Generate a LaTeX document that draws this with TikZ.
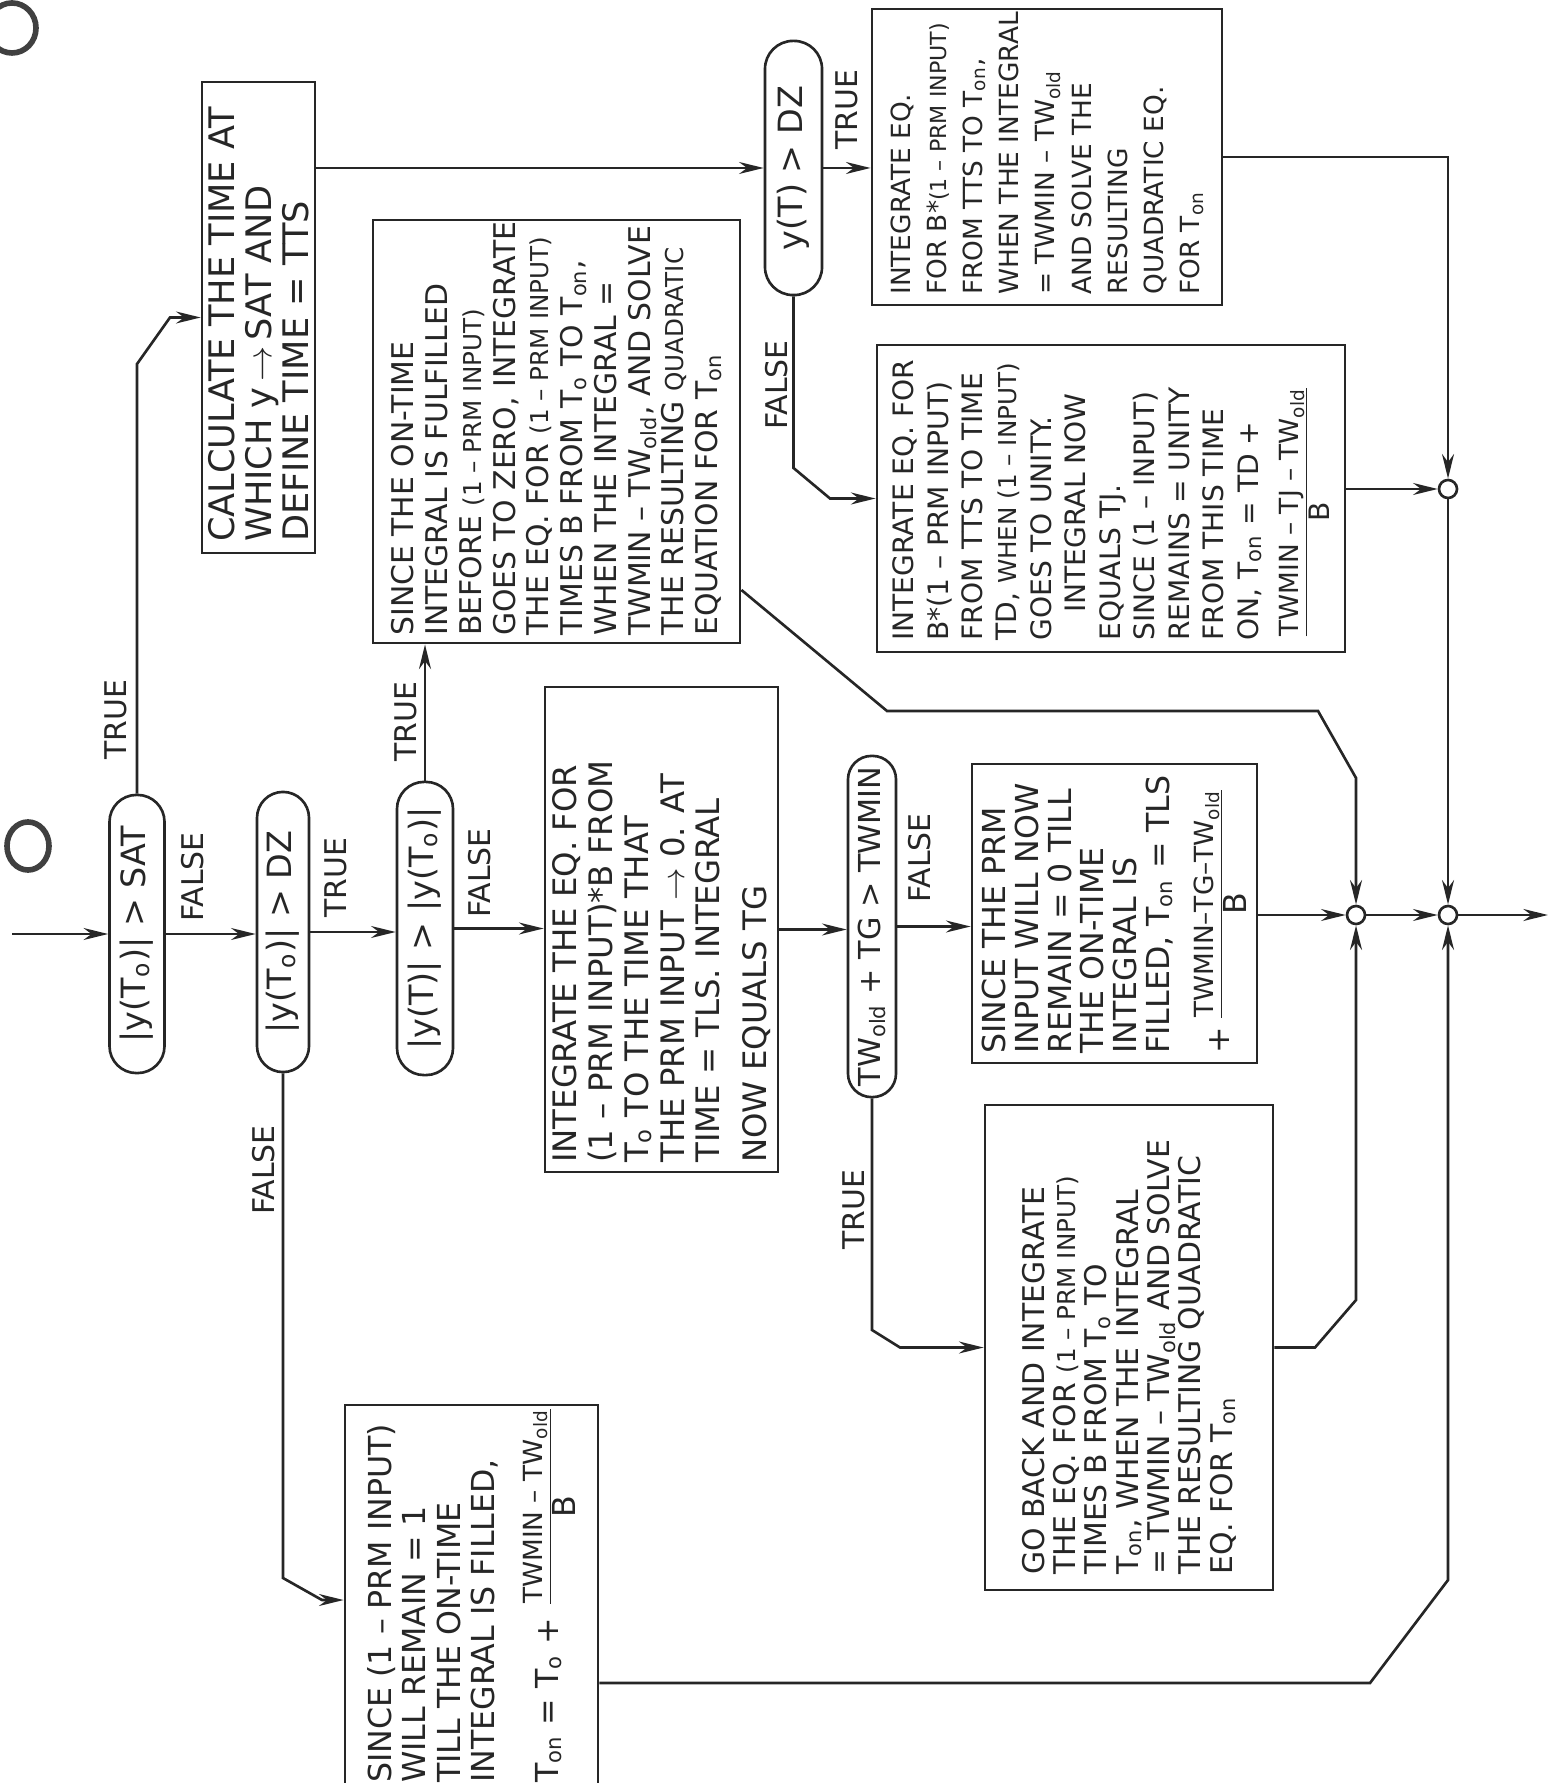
\documentclass[tikz,border=0pt]{standalone}
\usepackage{fontspec}
\setmainfont{DejaVu Sans}
\usetikzlibrary{arrows.meta,calc}
\newcommand\sbs[1]{\textsubscript{#1}}
\newcommand\fsz[2]{\fontsize{#1}{#2}\selectfont}
\newcommand\smtx[1]{{\fontsize{7}{7}\selectfont #1}}
\newcommand\smtxx[1]{{\fontsize{6.3}{6.3}\selectfont #1}}
\newcommand\myfrac[2]{$\frac{\mbox{\fsz{7.5}{8}#1}}{\mbox{#2}}$}
\begin{document}
\begin{tikzpicture}[x=0.01cm,y=-0.01cm,
  ln/.style={line width=0.75pt, draw=black!85},
  box/.style={ln, rectangle, inner sep=0pt},
  pill/.style={ln, rectangle, rounded corners=#1, inner sep=0pt},
  jn/.style={ln, circle, minimum size=0.18cm, inner sep=0pt, fill=white},
  tx/.style={rotate=90, anchor=west, align=left, inner sep=0pt, text=black!85},
  dtx/.style={rotate=90, inner sep=0pt, text=black!85, font=\fsz{9.5}{10}},
  lab/.style={rotate=90, inner sep=0pt, text=black!85, font=\fsz{8.5}{9}},
  arr/.style={ln, -{Stealth[length=7pt,width=3.4pt]}},
  oarr/.style={ln, -{Stealth[length=7pt,width=3.4pt,open]}},
  hole/.style={line width=1.6pt, draw=black!75}
]
\useasboundingbox (0,0) rectangle (1551,1783);
\clip (0,0) rectangle (1551,1783);

% punch holes
\draw[hole] (12,28) ellipse [x radius=0.24cm, y radius=0.25cm];
\draw[hole] (28,846) ellipse [x radius=0.21cm, y radius=0.24cm];

% decisions
\node[pill=0.27cm, minimum width=0.55cm, minimum height=2.78cm] (D1) at (137,934) {};
\node[pill=0.26cm, minimum width=0.52cm, minimum height=2.80cm] (D2) at (283,932) {};
\node[pill=0.27cm, minimum width=0.56cm, minimum height=2.93cm] (D3) at (425,928.5) {};
\node[pill=0.28cm, minimum width=0.57cm, minimum height=2.54cm] (D4) at (793.5,168) {};
\node[pill=0.235cm, minimum width=0.48cm, minimum height=3.41cm] (D5) at (872,926.5) {};
\node[dtx] at (D1) {|y(T\sbs{o})| > SAT};
\node[dtx] at (D2) {|y(T\sbs{o})| > DZ};
\node[dtx] at (D3) {|y(T)| > |y(T\sbs{o})|};
\node[dtx] at (D4) {y(T) > DZ};
\node[dtx, font=\fsz{8.6}{9}] at (D5) {TW\sbs{old} + TG > TWMIN};

% boxes
\node[box, minimum width=1.13cm, minimum height=4.71cm] (B1) at (258.5,317.5) {};
\node[box, minimum width=2.33cm, minimum height=4.85cm] (B2) at (661.5,929.5) {};
\node[box, minimum width=3.67cm, minimum height=4.23cm] (B3) at (556.5,431.5) {};
\node[box, minimum width=4.68cm, minimum height=3.07cm] (B4) at (1111,498.5) {};
\node[box, minimum width=3.50cm, minimum height=2.96cm] (B5) at (1047,157) {};
\node[box, minimum width=2.85cm, minimum height=2.99cm] (B6) at (1114.5,913.5) {};
\node[box, minimum width=2.88cm, minimum height=4.85cm] (B7) at (1129,1347.5) {};
\node[box, minimum width=2.53cm, minimum height=3.95cm] (B8) at (471.5,1602.5) {};

% box texts
\node[tx, font=\fsz{10}{10.5}] at ($(B1.south)+(0,-12)$)
 {CALCULATE THE TIME AT\\WHICH y\,$\rightarrow$\,SAT AND\\DEFINE TIME = TTS};
\node[tx, font=\fsz{9.2}{10.2}] at ($(B2.south)+(0,-10)$)
 {INTEGRATE THE EQ. FOR\\(1 -- PRM INPUT)*B FROM\\T\sbs{o} TO THE TIME THAT\\THE PRM INPUT $\rightarrow$ 0. AT\\TIME = TLS. INTEGRAL\\[3pt]NOW EQUALS TG};
\node[tx, font=\fsz{8.5}{9.6}] at ($(B3.south)+(0,-8)$)
 {SINCE THE ON-TIME\\INTEGRAL IS FULFILLED\\BEFORE \smtx{(1 -- PRM INPUT)}\\GOES TO ZERO, INTEGRATE\\THE EQ. FOR \smtx{(1 -- PRM INPUT)}\\TIMES B FROM T\sbs{o} TO T\sbs{on},\\WHEN THE INTEGRAL =\\TWMIN -- TW\sbs{old}, AND SOLVE\\THE RESULTING \smtx{QUADRATIC}\\EQUATION FOR T\sbs{on}};
\node[tx, font=\fsz{8}{9.8}] at ($(B4.south)+(0,-12)$)
 {INTEGRATE EQ. FOR\\B*(1 -- PRM INPUT)\\FROM TTS TO TIME\\TD, \smtx{WHEN (1 -- INPUT)}\\GOES TO UNITY.\\\hspace{1em}INTEGRAL NOW\\EQUALS TJ.\\SINCE (1 -- INPUT)\\REMAINS = UNITY\\FROM THIS TIME\\ON, T\sbs{on} = TD +\\[4pt]\myfrac{TWMIN -- TJ -- TW\sbs{old}}{B}};
\node[tx, font=\fsz{7.5}{10.3}] at ($(B5.south)+(0,-11)$)
 {INTEGRATE EQ.\\FOR B*\smtxx{(1 -- PRM INPUT)}\\FROM TTS TO T\sbs{on},\\WHEN THE INTEGRAL\\= TWMIN -- TW\sbs{old}\\AND SOLVE THE\\RESULTING\\QUADRATIC EQ.\\FOR T\sbs{on}};
\node[tx, font=\fsz{9}{9.3}] at ($(B6.south)+(0,-10)$)
 {SINCE THE PRM\\INPUT WILL NOW\\REMAIN = 0 TILL\\THE ON-TIME\\INTEGRAL IS\\FILLED, T\sbs{on} = TLS\\[5pt]+\,\myfrac{TWMIN--TG--TW\sbs{old}}{B}};
\node[tx, font=\fsz{8.5}{8.9}] at ($(B7.south)+(0,-16)$)
 {GO BACK AND INTEGRATE\\THE EQ. FOR \smtx{(1 -- PRM INPUT)}\\TIMES B FROM T\sbs{o} TO\\T\sbs{on}, WHEN THE INTEGRAL\\= TWMIN -- TW\sbs{old} AND SOLVE\\THE RESULTING QUADRATIC\\EQ. FOR T\sbs{on}};
\node[tx, font=\fsz{9}{9.8}] at ($(B8.south)+(0,-18)$)
 {SINCE (1 -- PRM INPUT)\\WILL REMAIN = 1\\TILL THE ON-TIME\\INTEGRAL IS FILLED,\\[6pt]T\sbs{on} = T\sbs{o} + \myfrac{TWMIN -- TW\sbs{old}}{B}};

% junctions
\node[jn] (J2) at (1448,489) {};
\node[jn] (J3) at (1356,915) {};
\node[jn] (J4) at (1448,915) {};

% helper coordinates
\coordinate (S) at (12,934);
\coordinate (E) at (1548,915);
\coordinate (c1) at (137,364);
\coordinate (c2) at (170,317.5);
\coordinate (c3) at (793.5,468);
\coordinate (c4) at (830,498.5);
\coordinate (y590) at (0,590);
\coordinate (c5) at (887,711);
\coordinate (c6) at (1318,711);
\coordinate (c7) at (1356,778);
\coordinate (c8) at (872,1330);
\coordinate (c9) at (900,1347.5);
\coordinate (c10) at (1315,1347.5);
\coordinate (c11) at (1356,1300);
\coordinate (c12) at (283,1578);
\coordinate (c13) at (322,1600);
\coordinate (y1683) at (0,1683);
\coordinate (c14) at (1370,1683);
\coordinate (c15) at (1448,1580);

% main flow
\draw[arr] (S) -- (D1.west);
\draw[arr] (D1.east) -- (D1.east -| D2.west);
\draw[arr] (D2.east) -- (D2.east -| D3.west);
\draw[arr] (D3.east) -- (D3.east -| B2.west);
\draw[arr] (B2.east) -- (B2.east -| D5.west);
\draw[arr] (D5.east) -- (D5.east -| B6.west);
\draw[arr] (B6.east |- J3.west) -- (J3.west);
\draw[arr] (J3.east) -- (J4.west);
\draw[arr] (J4.east) -- (E);

% branches
\draw[arr] (D1.north) -- (c1) -- (c2) -- (B1.west);
\draw[arr] (B1.east |- D4.west) -- (D4.west);
\draw[arr] (D4.east) -- (D4.east -| B5.west);
\draw[arr] (D4.south) -- (c3) -- (c4) -- (B4.west);
\draw[oarr] (B5.east) -- (B5.east -| J2.north) -- (J2.north);
\draw[arr] (B4.east |- J2.west) -- (J2.west);
\draw[oarr] (J2.south) -- (J4.north);
\draw[arr] (D3.north) -- (D3.north |- B3.south);
\draw[oarr] (B3.east |- y590) -- (c5) -- (c6) -- (c7) -- (J3.north);
\draw[arr] (D5.south) -- (c8) -- (c9) -- (B7.west);
\draw[arr] (B7.east) -- (c10) -- (c11) -- (J3.south);
\draw[arr] (D2.south) -- (c12) -- (c13) -- (c13 -| B8.west);
\draw[arr] (B8.east |- y1683) -- (c14) -- (c15) -- (J4.south);

% labels
\node[lab] at (116,720) {TRUE};
\node[lab] at (193,877) {FALSE};
\node[lab] at (336,878) {TRUE};
\node[lab] at (406,722) {TRUE};
\node[lab] at (480,873) {FALSE};
\node[lab] at (264,1170) {FALSE};
\node[lab] at (847,110) {TRUE};
\node[lab] at (777,385) {FALSE};
\node[lab] at (920,858) {FALSE};
\node[lab] at (854,1210) {TRUE};
\end{tikzpicture}
\end{document}
